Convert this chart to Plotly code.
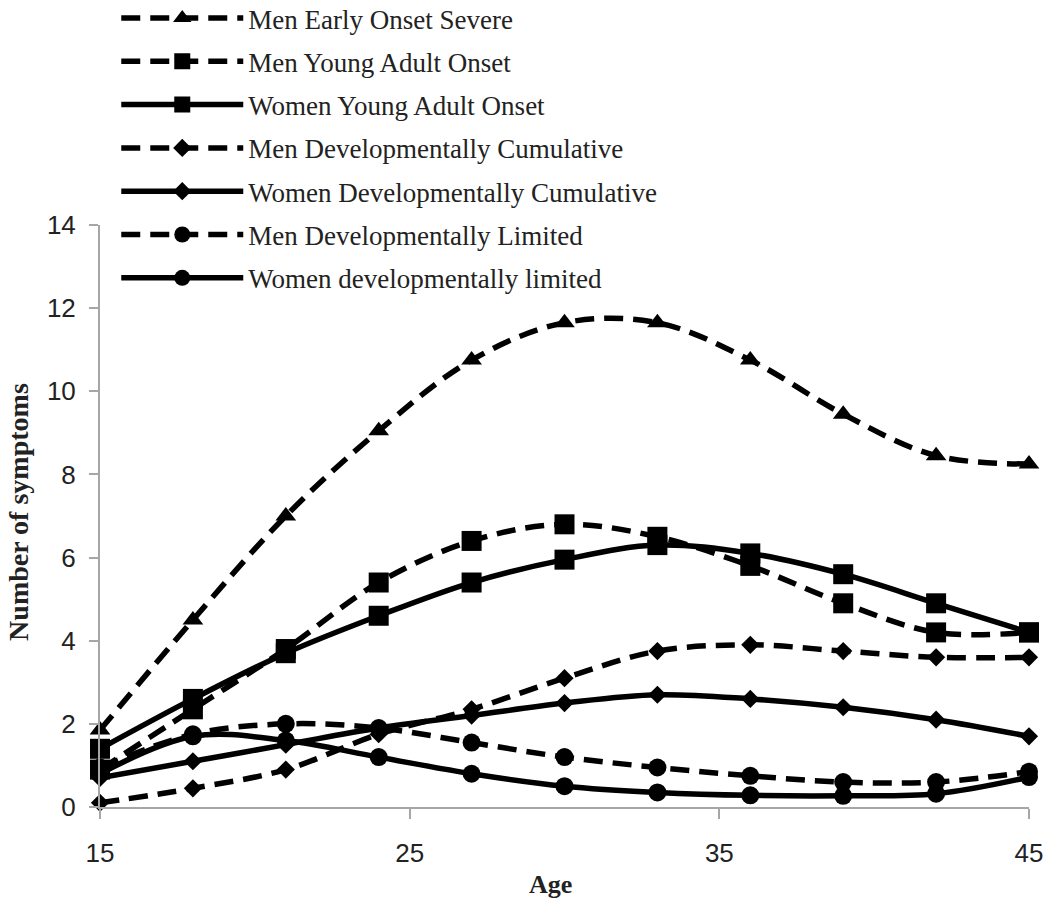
import plotly.graph_objects as go

ages = [15, 18, 21, 24, 27, 30, 33, 36, 39, 42, 45]
men_early_onset_severe = [1.85, 4.5, 7.0, 9.05, 10.75, 11.65, 11.65, 10.75, 9.45, 8.45, 8.25]
men_young_adult_onset = [0.9, 2.35, 3.8, 5.4, 6.4, 6.8, 6.5, 5.8, 4.9, 4.2, 4.2]
women_young_adult_onset = [1.4, 2.6, 3.7, 4.6, 5.4, 5.95, 6.3, 6.1, 5.6, 4.9, 4.2]
men_dev_cumulative = [0.1, 0.45, 0.9, 1.75, 2.35, 3.1, 3.75, 3.9, 3.75, 3.6, 3.6]
women_dev_cumulative = [0.7, 1.1, 1.5, 1.9, 2.2, 2.5, 2.7, 2.6, 2.4, 2.1, 1.7]
men_dev_limited = [0.95, 1.75, 2.0, 1.9, 1.55, 1.2, 0.95, 0.75, 0.6, 0.6, 0.85]
women_dev_limited = [0.8, 1.7, 1.6, 1.2, 0.8, 0.5, 0.35, 0.28, 0.27, 0.32, 0.72]

x_ticks = [15, 25, 35, 45]
y_ticks = [0, 2, 4, 6, 8, 10, 12, 14]

series = [
    ("Men Early Onset Severe", men_early_onset_severe, "dash", "triangle-up", 18),
    ("Men Young Adult Onset", men_young_adult_onset, "dash", "square", 20),
    ("Women Young Adult Onset", women_young_adult_onset, "solid", "square", 20),
    ("Men Developmentally Cumulative", men_dev_cumulative, "dash", "diamond", 14),
    ("Women Developmentally Cumulative", women_dev_cumulative, "solid", "diamond", 14),
    ("Men Developmentally Limited", men_dev_limited, "dash", "circle", 18),
    ("Women developmentally limited", women_dev_limited, "solid", "circle", 18),
]

fig = go.Figure()
for i, (name, vals, dash, sym, size) in enumerate(series):
    fig.add_trace(go.Scatter(
        x=ages, y=vals, name=name, mode="lines+markers",
        legendgroup="g%d" % i,
        line=dict(color="black", width=5.5, dash=("19px,10px" if dash == "dash" else "solid"),
                  shape="spline", smoothing=1),
        marker=dict(symbol=sym, size=size, color="black"),
        cliponaxis=False,
    ))

axis_col = "#a6a6a6"
fig.update_layout(
    width=1050, height=905,
    margin=dict(l=100, r=21, t=225, b=98, autoexpand=False),
    paper_bgcolor="white", plot_bgcolor="white",
    showlegend=True,
    legend=dict(
        x=0.0175, y=1.397, xanchor="left", yanchor="top",
        font=dict(family="Liberation Serif", size=27, color="#222"),
        bgcolor="rgba(0,0,0,0)",
        itemwidth=122,
        tracegroupgap=5.2,
    ),
    xaxis=dict(
        range=[15, 45], tickvals=x_ticks, showline=True, linecolor=axis_col, linewidth=2,
        ticks="outside", ticklen=10, tickcolor=axis_col, tickwidth=1.5,
        showgrid=False, zeroline=False, automargin=False,
        tickfont=dict(family="Liberation Sans", size=26, color="#222"),
        ticklabelstandoff=12,
    ),
    yaxis=dict(
        range=[0, 14], tickvals=y_ticks, showline=True, linecolor=axis_col, linewidth=2,
        ticks="outside", ticklen=9, tickcolor=axis_col, tickwidth=1.5,
        showgrid=False, zeroline=False, automargin=False,
        tickfont=dict(family="Liberation Sans", size=26, color="#222"),
        ticklabelstandoff=8,
    ),
    annotations=[
        dict(text="<b>Age</b>", xref="paper", yref="paper", x=0.485, y=-0.134,
             xanchor="center", yanchor="middle", showarrow=False,
             font=dict(family="Liberation Serif", size=26, color="#222")),
        dict(text="<b>Number of symptoms</b>", xref="paper", yref="paper", x=-0.0872, y=0.507,
             xanchor="center", yanchor="middle", textangle=-90, showarrow=False,
             font=dict(family="Liberation Serif", size=28, color="#222")),
    ],
)

fig.write_html("out.html",
               config={"displayModeBar": False},
               post_script="document.body.style.margin='0';document.body.style.overflow='hidden';")
